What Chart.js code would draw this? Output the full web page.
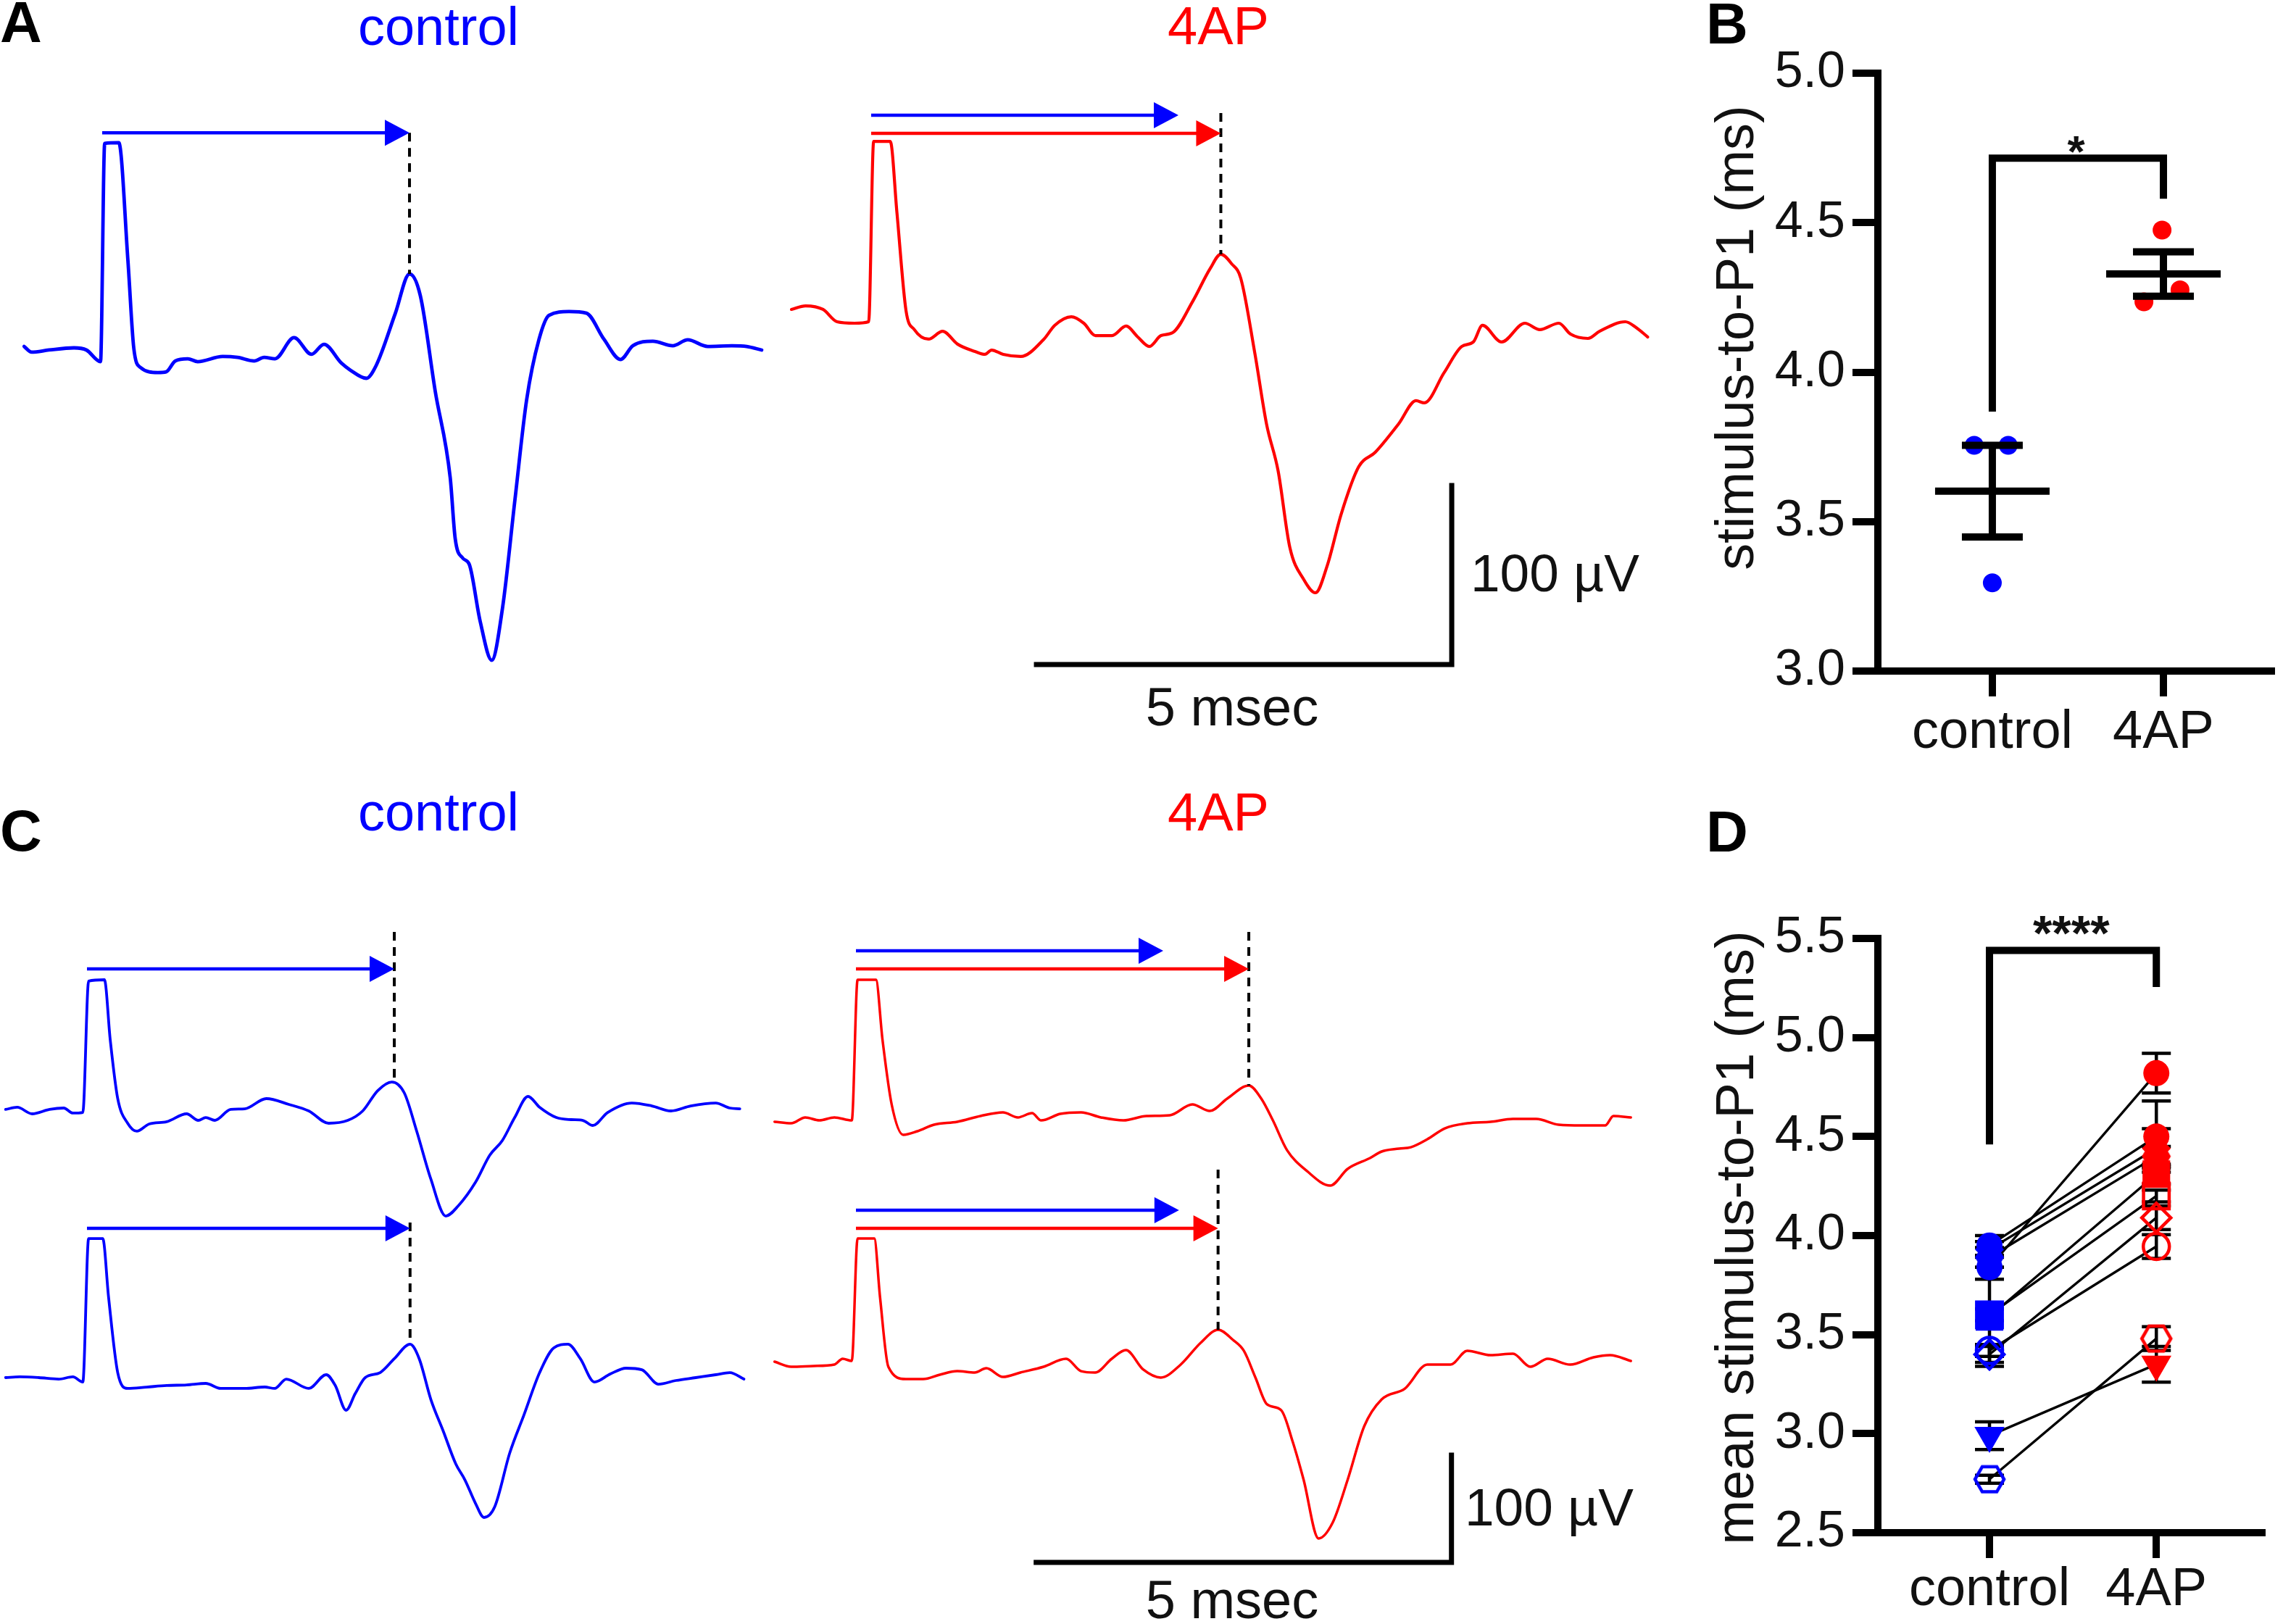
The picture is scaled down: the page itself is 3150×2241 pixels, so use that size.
<!DOCTYPE html>
<html><head><meta charset="utf-8">
<script src="https://cdn.jsdelivr.net/npm/chart.js@4.4.1/dist/chart.umd.min.js"></script>
<style>
html,body{margin:0;padding:0;background:#fff;}
#page{position:relative;width:3150px;height:2241px;overflow:hidden;background:#fff;font-family:"Liberation Sans",Arial,Helvetica,sans-serif;}
canvas{position:absolute;}
.lbl{position:absolute;white-space:nowrap;line-height:1;}
</style></head><body><div id="page">
<canvas id="cA1"></canvas><canvas id="cA2"></canvas><canvas id="cB"></canvas>
<canvas id="cC1"></canvas><canvas id="cC2"></canvas><canvas id="cD"></canvas>
</div>
<script>
// ================= DATA =================
// Traces: [time after stimulus (ms), voltage re. baseline (µV)]
const traceA_control = [[-0.94,1.6],[-0.85,-1.6],[-0.64,-0.4],[-0.34,0.8],[-0.19,-0.4],[-0.02,-6.9],[0.03,115],[0.20,115.4],[0.31,49.4],[0.38,0.8],[0.46,-10.1],[0.67,-13],[0.77,-12.6],[0.88,-6.5],[1.03,-5.3],[1.15,-6.9],[1.45,-4],[1.63,-4.5],[1.83,-6.5],[1.95,-4.5],[2.08,-5.3],[2.31,6.5],[2.52,-2.8],[2.67,2.8],[2.88,-7.7],[2.99,-11.7],[3.18,-16.2],[3.30,-8.9],[3.53,20.2],[3.70,42.1],[3.83,30],[4.01,-23.5],[4.19,-71.7],[4.25,-105.7],[4.34,-116.6],[4.42,-120.2],[4.55,-151.8],[4.69,-173.7],[4.82,-144.5],[4.97,-83.8],[5.11,-28.3],[5.26,5.7],[5.38,19],[5.62,21.1],[5.83,20.2],[6.04,5.7],[6.24,-5.7],[6.39,2],[6.63,4.5],[6.87,2],[7.05,5.3],[7.29,1.6],[7.58,2],[7.76,1.6],[7.94,-0.4]];
const traceA_4AP = [[-0.96,7.3],[-0.79,9.3],[-0.58,7.3],[-0.41,0.4],[-0.20,-0.4],[-0.03,0.4],[0.03,101.2],[0.23,101.2],[0.31,61.5],[0.42,6.5],[0.52,-4],[0.69,-9.3],[0.86,-4.9],[1.04,-12.1],[1.25,-16.2],[1.37,-17.8],[1.45,-15.4],[1.59,-17.8],[1.80,-19],[2.08,-9.3],[2.21,-1.6],[2.41,3.2],[2.56,-0.4],[2.70,-7.3],[2.90,-7.3],[3.07,-2],[3.21,-8.1],[3.35,-13.4],[3.49,-7.3],[3.63,-5.7],[3.87,11.7],[4.08,30],[4.21,38.1],[4.34,32.8],[4.45,24.7],[4.62,-17.4],[4.76,-56.7],[4.90,-83],[5.04,-125.5],[5.21,-143.7],[5.35,-151],[5.49,-136],[5.66,-106.9],[5.87,-80.6],[6.07,-72.5],[6.35,-56.7],[6.56,-43.7],[6.66,-44.9],[6.90,-27.9],[7.11,-13.4],[7.25,-10.9],[7.36,-1.6],[7.59,-10.9],[7.87,-0.4],[8.05,-4],[8.28,-0.4],[8.42,-6.5],[8.63,-8.9],[8.77,-4.9],[9.08,0.4],[9.21,-2.8],[9.35,-8.1]];
const traceC_control_1 = [[-0.98,1.4],[-0.84,3.4],[-0.66,-2.7],[-0.45,1.4],[-0.28,2.7],[-0.17,-2],[-0.05,-1.4],[0.02,121],[0.21,122.3],[0.28,66.2],[0.37,11.5],[0.49,-11.5],[0.60,-18.9],[0.75,-12.2],[0.96,-10.1],[1.20,-2.7],[1.34,-8.8],[1.43,-6.1],[1.54,-8.8],[1.73,1.4],[1.90,2],[2.16,11.5],[2.43,6.1],[2.67,0],[2.91,-11.5],[3.14,-8.8],[3.32,0],[3.50,18.9],[3.67,27],[3.82,16.9],[3.97,-18.9],[4.14,-63.5],[4.32,-98],[4.47,-88.5],[4.68,-66.2],[4.85,-41.2],[5.00,-27.7],[5.15,-6.1],[5.31,13.5],[5.45,3.4],[5.65,-6.1],[5.83,-8.1],[5.97,-8.8],[6.09,-13.5],[6.27,-1.4],[6.56,7.4],[6.80,4.7],[7.03,0],[7.27,4.7],[7.57,7.4],[7.74,2.7],[7.86,2]];
const traceC_control_2 = [[-0.98,0],[-0.81,0.7],[-0.58,0],[-0.34,-1.4],[-0.17,0.7],[-0.05,-4.1],[0.02,129.7],[0.19,129.7],[0.26,75],[0.37,4.7],[0.49,-10.1],[0.72,-8.8],[0.96,-7.4],[1.20,-6.8],[1.43,-5.4],[1.61,-10.1],[1.90,-10.1],[2.14,-8.8],[2.26,-10.1],[2.40,-1.4],[2.67,-10.1],[2.88,2.7],[2.99,-7.4],[3.12,-30.4],[3.23,-14.9],[3.35,0],[3.53,4.7],[3.70,17.6],[3.89,31.1],[4.00,17.6],[4.14,-20.3],[4.29,-50],[4.44,-80.4],[4.55,-95.3],[4.68,-117.6],[4.78,-130.4],[4.91,-120.3],[5.09,-70.3],[5.26,-35.1],[5.45,4.7],[5.62,27.7],[5.79,31.1],[5.94,17.6],[6.11,-4.1],[6.30,3.4],[6.49,8.8],[6.68,7.4],[6.88,-6.1],[7.09,-2.7],[7.33,0],[7.57,2.7],[7.74,4.7],[7.91,-1.4]];
const traceC_4AP_1 = [[-0.98,-2.7],[-0.78,-4.1],[-0.61,1.4],[-0.44,-1.4],[-0.26,1.4],[-0.05,-1.4],[0.02,129.7],[0.24,129.7],[0.32,73.6],[0.43,13.5],[0.57,-14.9],[0.74,-11.5],[0.94,-5.4],[1.22,-2.7],[1.50,2.7],[1.77,6.1],[1.95,1.4],[2.12,5.4],[2.23,-1.4],[2.46,4.7],[2.71,6.1],[2.95,1.4],[3.22,-1.4],[3.50,2.7],[3.78,3.4],[4.05,13.5],[4.26,7.4],[4.47,18.9],[4.73,31.1],[4.88,18.9],[5.02,-1.4],[5.19,-29.1],[5.43,-48.6],[5.71,-62.2],[5.92,-46.6],[6.19,-36.5],[6.33,-30.4],[6.54,-27.7],[6.68,-26.4],[6.88,-18.9],[7.09,-8.8],[7.36,-4.1],[7.64,-2.7],[7.91,0],[8.19,0],[8.46,-5.4],[8.74,-6.1],[9.02,-6.1],[9.12,2.7],[9.33,1.4]];
const traceC_4AP_2 = [[-0.98,2],[-0.78,-2.7],[-0.51,-2],[-0.26,-0.7],[-0.16,4.7],[-0.05,2.7],[0.02,116.9],[0.22,116.9],[0.29,62.2],[0.39,-2.7],[0.60,-14.2],[0.81,-14.2],[1.01,-10.1],[1.22,-6.8],[1.43,-8.1],[1.57,-4.1],[1.77,-12.2],[1.98,-8.1],[2.26,-2.7],[2.53,4.7],[2.71,-6.8],[2.88,-8.1],[3.08,4.7],[3.25,12.8],[3.46,-5.4],[3.67,-12.8],[3.91,-0.7],[4.15,19.6],[4.36,31.8],[4.54,22.3],[4.67,12.2],[4.81,-12.8],[4.95,-37.8],[5.12,-43.2],[5.26,-73],[5.39,-108.1],[5.57,-162.8],[5.74,-148],[5.92,-108.1],[6.12,-58.1],[6.33,-33.1],[6.61,-23],[6.88,-0.7],[7.16,-0.7],[7.36,12.2],[7.64,8.1],[7.91,9.5],[8.12,-2.7],[8.33,4.7],[8.60,-0.7],[8.88,6.1],[9.08,8.1],[9.33,2.7]];
// stimulus-to-P1 latencies shown by arrows (ms)
const latencyA = [3.70, 4.21];          // control, 4AP
const latencyC_control = [3.70, 3.89];  // example 1, example 2
const latencyC_4AP = [4.73, 4.36];      // example 1, example 2
const scaleBarMs = 5, scaleBarUv = 100;
// Panel B
const GROUPS = ['control', '4AP'];
const bControl = [3.755, 3.755, 3.295];
const b4AP = [4.475, 4.235, 4.275];
const bTicks = [3.0, 3.5, 4.0, 4.5, 5.0];
// Panel D (mean ± SEM per animal)
const dControl    = [3.84, 3.95, 3.93, 3.89, 3.59, 3.60, 3.40, 3.42, 2.99, 2.77];
const dControlSem = [0.06, 0.05, 0.04, 0.05, 0.25, 0.03, 0.04, 0.03, 0.07, 0.02];
const d4AP        = [4.82, 4.50, 4.44, 4.40, 4.31, 4.20, 4.09, 3.945, 3.35, 3.48];
const d4APSem     = [0.10, 0.18, 0.10, 0.05, 0.05, 0.03, 0.06, 0.06, 0.09, 0.06];
const dTicks = [2.5, 3.0, 3.5, 4.0, 4.5, 5.0, 5.5];

// ================= STYLE / LAYOUT =================
const BLUE = '#0000ff', RED = '#ff0000', INK = '#111111';
const FONT = '"Liberation Sans", Arial, Helvetica, sans-serif';
const MS_PX = 114.6;
const AXIS_W = 10;
const page = document.getElementById('page');
function pts(a){ return a.map(p => ({x:p[0], y:p[1]})); }
function peakNear(tr, t){ let best=-1e9; tr.forEach(p=>{ if (Math.abs(p[0]-t)<0.25 && p[1]>best) best=p[1]; }); return best; }
function mean(a){ return a.reduce((s,v)=>s+v,0)/a.length; }
function sem(a){ const m=mean(a); const v=a.reduce((s,x)=>s+(x-m)*(x-m),0)/(a.length-1); return Math.sqrt(v/a.length); }

const traceDeco = {
  id:'traceDeco',
  afterDatasetsDraw(chart, args, o){
    const ctx = chart.ctx, xs = chart.scales.x;
    ctx.save();
    (o.dashes||[]).forEach(d=>{
      const ys = chart.scales[d.axis];
      ctx.strokeStyle = '#000'; ctx.lineWidth = 4; ctx.setLineDash([12,9]);
      ctx.beginPath(); ctx.moveTo(xs.getPixelForValue(d.t), ys.getPixelForValue(d.from));
      ctx.lineTo(xs.getPixelForValue(d.t), ys.getPixelForValue(d.to)); ctx.stroke();
    });
    ctx.setLineDash([]);
    (o.arrows||[]).forEach(a=>{
      const ys = chart.scales[a.axis];
      const x0 = xs.getPixelForValue(0), x1 = xs.getPixelForValue(a.t), y = ys.getPixelForValue(a.level);
      ctx.strokeStyle = a.color; ctx.fillStyle = a.color; ctx.lineWidth = 4.5;
      ctx.beginPath(); ctx.moveTo(x0, y); ctx.lineTo(x1-30, y); ctx.stroke();
      ctx.beginPath(); ctx.moveTo(x1, y); ctx.lineTo(x1-34, y-18); ctx.lineTo(x1-34, y+18); ctx.closePath(); ctx.fill();
    });
    (o.bars||[]).forEach(b=>{
      const ys = chart.scales[b.axis];
      const xc = xs.getPixelForValue(b.t), yc = ys.getPixelForValue(b.v);
      ctx.strokeStyle = '#000'; ctx.lineWidth = 7; ctx.lineCap = 'square';
      ctx.beginPath();
      ctx.moveTo(xs.getPixelForValue(b.t - scaleBarMs), yc);
      ctx.lineTo(xc, yc); ctx.lineTo(xc, ys.getPixelForValue(b.v + scaleBarUv)); ctx.stroke();
    });
    ctx.restore();
  }
};

function traceChart(id, rect, t0px, axes, datasets, deco){
  const c = document.getElementById(id);
  c.width = rect.w; c.height = rect.h;
  Object.assign(c.style, {left:rect.l+'px', top:rect.t+'px', width:rect.w+'px', height:rect.h+'px'});
  const scales = { x:{type:'linear', display:false, min:(rect.l-t0px)/MS_PX, max:(rect.l+rect.w-t0px)/MS_PX} };
  axes.forEach(a=>{ scales[a.id] = {type:'linear', display:false, position:'left',
      min:(a.base-(rect.t+rect.h))/a.k, max:(a.base-rect.t)/a.k}; });
  new Chart(c, {type:'line', data:{datasets},
    options:{responsive:false, animation:false, devicePixelRatio:1, events:[],
      layout:{padding:0}, scales,
      elements:{point:{radius:0}, line:{cubicInterpolationMode:'monotone', borderJoinStyle:'round', borderCapStyle:'round'}},
      plugins:{legend:{display:false}, tooltip:{enabled:false}, traceDeco:deco}},
    plugins:[traceDeco]});
}
function ds(tr, color, axis, w){ return {data:pts(tr), borderColor:color, borderWidth:w, yAxisID:axis, fill:false}; }

// Panel A
traceChart('cA1', {l:0,t:100,w:1060,h:860}, 141, [{id:'y', base:482, k:2.47}],
  [ds(traceA_control, BLUE, 'y', 4.8)],
  {dashes:[{axis:'y', t:latencyA[0], from:121, to:peakNear(traceA_control, latencyA[0])}],
   arrows:[{axis:'y', t:latencyA[0], level:121, color:BLUE}]});
traceChart('cA2', {l:1060,t:100,w:1250,h:860}, 1202, [{id:'y', base:445, k:2.47}],
  [ds(traceA_4AP, RED, 'y', 4.2)],
  {dashes:[{axis:'y', t:latencyA[1], from:117, to:peakNear(traceA_4AP, latencyA[1])}],
   arrows:[{axis:'y', t:latencyA[0], level:115.8, color:BLUE},{axis:'y', t:latencyA[1], level:105.7, color:RED}],
   bars:[{axis:'y', t:6.99, v:-191.1}]});
// Panel C
traceChart('cC1', {l:0,t:1250,w:1060,h:900}, 120, [{id:'y1', base:1533, k:1.48},{id:'y2', base:1901, k:1.48}],
  [ds(traceC_control_1, BLUE, 'y1', 3.8), ds(traceC_control_2, BLUE, 'y2', 3.8)],
  {dashes:[{axis:'y1', t:latencyC_control[0], from:166.9, to:peakNear(traceC_control_1, latencyC_control[0])},
           {axis:'y2', t:latencyC_control[1], from:144.6, to:peakNear(traceC_control_2, latencyC_control[1])}],
   arrows:[{axis:'y1', t:latencyC_control[0], level:132.4, color:BLUE},{axis:'y2', t:latencyC_control[1], level:139.2, color:BLUE}]});
traceChart('cC2', {l:1060,t:1250,w:1250,h:960}, 1181, [{id:'y1', base:1544, k:1.48},{id:'y2', base:1882, k:1.48}],
  [ds(traceC_4AP_1, RED, 'y1', 3.5), ds(traceC_4AP_2, RED, 'y2', 3.5)],
  {dashes:[{axis:'y1', t:latencyC_4AP[0], from:174.3, to:peakNear(traceC_4AP_1, latencyC_4AP[0])},
           {axis:'y2', t:latencyC_4AP[1], from:181.1, to:peakNear(traceC_4AP_2, latencyC_4AP[1])}],
   arrows:[{axis:'y1', t:latencyC_control[0], level:156.8, color:BLUE},{axis:'y1', t:latencyC_4AP[0], level:139.9, color:RED},
           {axis:'y2', t:latencyC_control[1], level:143.2, color:BLUE},{axis:'y2', t:latencyC_4AP[1], level:126.4, color:RED}],
   bars:[{axis:'y2', t:7.17, v:-185.1}]});

// ---------- scatter panels ----------
const statDeco = {
  id:'statDeco',
  beforeDatasetsDraw(chart, args, o){
    if (!o.errorBars) return;
    const ctx = chart.ctx, xs = chart.scales.x, ys = chart.scales.y;
    ctx.save(); ctx.strokeStyle = '#000'; ctx.lineWidth = 4.5;
    o.errorBars.forEach(e=>{
      const x = xs.getPixelForValue(e.x), y1 = ys.getPixelForValue(e.m - e.s), y2 = ys.getPixelForValue(e.m + e.s);
      ctx.beginPath(); ctx.moveTo(x, y1); ctx.lineTo(x, y2);
      ctx.moveTo(x-20, y1); ctx.lineTo(x+20, y1); ctx.moveTo(x-20, y2); ctx.lineTo(x+20, y2); ctx.stroke();
    });
    ctx.restore();
  },
  afterDatasetsDraw(chart, args, o){
    const ctx = chart.ctx, xs = chart.scales.x, ys = chart.scales.y;
    ctx.save(); ctx.strokeStyle = '#000'; ctx.fillStyle = INK; ctx.lineWidth = AXIS_W; ctx.lineCap = 'butt';
    (o.meanSem||[]).forEach(g=>{
      const x = xs.getPixelForValue(g.x), ym = ys.getPixelForValue(g.m), yl = ys.getPixelForValue(g.m-g.s), yh = ys.getPixelForValue(g.m+g.s);
      ctx.beginPath(); ctx.moveTo(x-79, ym); ctx.lineTo(x+79, ym);
      ctx.moveTo(x-42, yl); ctx.lineTo(x+42, yl); ctx.moveTo(x-42, yh); ctx.lineTo(x+42, yh);
      ctx.moveTo(x, yl); ctx.lineTo(x, yh); ctx.stroke();
    });
    const b = o.bracket;
    if (b){
      ctx.lineJoin = 'miter';
      ctx.beginPath(); ctx.moveTo(xs.getPixelForValue(1), ys.getPixelForValue(b.left));
      ctx.lineTo(xs.getPixelForValue(1), ys.getPixelForValue(b.top));
      ctx.lineTo(xs.getPixelForValue(2), ys.getPixelForValue(b.top));
      ctx.lineTo(xs.getPixelForValue(2), ys.getPixelForValue(b.right)); ctx.stroke();
      ctx.font = 'bold ' + b.size + 'px ' + FONT; ctx.textAlign = 'center'; ctx.textBaseline = 'alphabetic';
      ctx.fillText(b.text, xs.getPixelForValue(1.49), ys.getPixelForValue(b.top) + b.dy);
    }
    const t = o.title;
    if (t){
      ctx.translate(t.x, t.y); ctx.rotate(-Math.PI/2);
      ctx.font = t.size + 'px ' + FONT; ctx.textAlign = 'center'; ctx.textBaseline = 'middle';
      ctx.fillText(t.text, 0, 0);
    }
    ctx.restore();
  }
};

function axisOpts(extra){
  return Object.assign({
    type:'linear',
    grid:{drawOnChartArea:false, drawTicks:true, tickLength:35, lineWidth:AXIS_W, color:'#000'},
    border:{display:true, width:AXIS_W, color:'#000'}
  }, extra);
}
function scatterChart(id, rect, padTop, xHeight, xPad, yMin, yMax, yTicks, datasets, deco){
  const c = document.getElementById(id);
  c.width = rect.w; c.height = rect.h;
  Object.assign(c.style, {left:rect.l+'px', top:rect.t+'px', width:rect.w+'px', height:rect.h+'px'});
  new Chart(c, {type:'scatter', data:{datasets},
    options:{responsive:false, animation:false, devicePixelRatio:1, events:[],
      layout:{padding:{left:0, right:16, top:padTop, bottom:0}},
      plugins:{legend:{display:false}, tooltip:{enabled:false}, statDeco:deco},
      scales:{
        x: axisOpts({min:0.331, max:2.631,
          afterBuildTicks:s=>{ s.ticks = GROUPS.map((g,i)=>({value:i+1})); },
          afterFit:s=>{ s.height = xHeight; },
          ticks:{autoSkip:false, maxRotation:0, padding:xPad, color:INK, font:{family:FONT, size:74},
                 callback:v=>GROUPS[Math.round(v)-1]}}),
        y: axisOpts({min:yMin, max:yMax,
          afterBuildTicks:s=>{ s.ticks = yTicks.map(v=>({value:v})); },
          afterFit:s=>{ s.width = 311; },
          ticks:{padding:10, color:INK, font:{family:FONT, size:70}, callback:v=>Number(v).toFixed(1)}})
      }},
    plugins:[statDeco]});
}

// Panel B
const bSpreadControl = [-0.106, 0.093, 0], bSpread4AP = [-0.008, -0.114, 0.097];
scatterChart('cB', {l:2280,t:0,w:870,h:1060}, 101, 134, 6, 3.0, 5.0, bTicks, [
  {data:bControl.map((v,i)=>({x:1+bSpreadControl[i], y:v})), pointRadius:13, pointBackgroundColor:BLUE, pointBorderWidth:0},
  {data:b4AP.map((v,i)=>({x:2+bSpread4AP[i], y:v})), pointRadius:13, pointBackgroundColor:RED, pointBorderWidth:0}
], {
  meanSem:[{x:1, m:mean(bControl), s:sem(bControl)}, {x:2, m:mean(b4AP), s:sem(b4AP)}],
  bracket:{left:3.868, top:4.716, right:4.58, text:'*', size:62, dy:12},
  title:{text:'stimulus-to-P1 (ms)', x:119, y:466, size:74}
});

// Panel D
function hexMarker(color, filled){
  const R = 20, s = 2*R + 8, c = document.createElement('canvas'); c.width = s; c.height = s;
  const g = c.getContext('2d'); g.beginPath();
  for (let i=0;i<6;i++){ const a = Math.PI/3*i; const px = s/2 + R*Math.cos(a), py = s/2 + R*Math.sin(a); i?g.lineTo(px,py):g.moveTo(px,py); }
  g.closePath();
  if (filled){ g.fillStyle = color; g.fill(); } else { g.strokeStyle = color; g.lineWidth = 4.5; g.stroke(); }
  return c;
}
const markers = [
  {style:'circle', filled:true, r:18}, {style:'circle', filled:true, r:18}, {style:'rectRot', filled:true, r:20},
  {style:'hex', filled:true, r:20}, {style:'rect', filled:true, r:27}, {style:'rect', filled:false, r:25},
  {style:'rectRot', filled:false, r:20}, {style:'circle', filled:false, r:18}, {style:'triangleDown', filled:true, r:24},
  {style:'hex', filled:false, r:20}
];
const dDatasets = [];
dControl.forEach((c,i)=>{
  dDatasets.push({data:[{x:1,y:c},{x:2,y:d4AP[i]}], showLine:true, borderColor:'#000', borderWidth:3.4, pointRadius:0, order:2});
});
dControl.forEach((c,i)=>{
  const m = markers[i];
  let style = m.style, rot = 0;
  if (style==='hex') style = [hexMarker(BLUE, m.filled), hexMarker(RED, m.filled)];
  if (style==='triangleDown'){ style = 'triangle'; rot = 180; }
  dDatasets.push({data:[{x:1,y:c},{x:2,y:d4AP[i]}], showLine:false, order:1,
    pointStyle:style, pointRotation:rot, pointRadius:m.r,
    pointBackgroundColor: m.filled ? [BLUE, RED] : ['rgba(0,0,0,0)','rgba(0,0,0,0)'],
    pointBorderColor:[BLUE, RED], pointBorderWidth: m.filled ? 0 : 4.5});
});
const errorBars = [];
dControl.forEach((c,i)=>{ errorBars.push({x:1, m:c, s:dControlSem[i]}); errorBars.push({x:2, m:d4AP[i], s:d4APSem[i]}); });
scatterChart('cD', {l:2280,t:1100,w:870,h:1141}, 195, 126, 0, 2.5, 5.5, dTicks, dDatasets, {
  errorBars,
  bracket:{left:4.46, top:5.44, right:5.255, text:'****', size:68, dy:0},
  title:{text:'mean stimulus-to-P1 (ms)', x:119, y:608, size:74}
});

// ---------- text labels ----------
const labels = [
  {t:'A', x:0, b:59, f:80, w:'bold', c:'#000'},
  {t:'control', cx:605, b:63, f:74, c:BLUE},
  {t:'4AP', cx:1681, b:62, f:74, c:RED},
  {t:'B', x:2354, b:61, f:80, w:'bold', c:'#000'},
  {t:'100 µV', x:2029, b:816, f:73},
  {t:'5 msec', cx:1700, b:1002, f:74},
  {t:'C', x:0, b:1175, f:80, w:'bold', c:'#000'},
  {t:'control', cx:605, b:1147, f:74, c:BLUE},
  {t:'4AP', cx:1681, b:1147, f:74, c:RED},
  {t:'D', x:2354, b:1176, f:80, w:'bold', c:'#000'},
  {t:'100 µV', x:2021, b:2105, f:73},
  {t:'5 msec', cx:1700, b:2234, f:74}
];
labels.forEach(L=>{
  const d = document.createElement('div'); d.className = 'lbl'; d.textContent = L.t;
  d.style.fontSize = L.f + 'px'; d.style.fontWeight = L.w || 'normal'; d.style.color = L.c || INK;
  d.style.top = (L.b - 0.8465*L.f) + 'px';
  if (L.cx != null){ d.style.left = L.cx + 'px'; d.style.transform = 'translateX(-50%)'; } else d.style.left = L.x + 'px';
  page.appendChild(d);
});
</script>
</body></html>
